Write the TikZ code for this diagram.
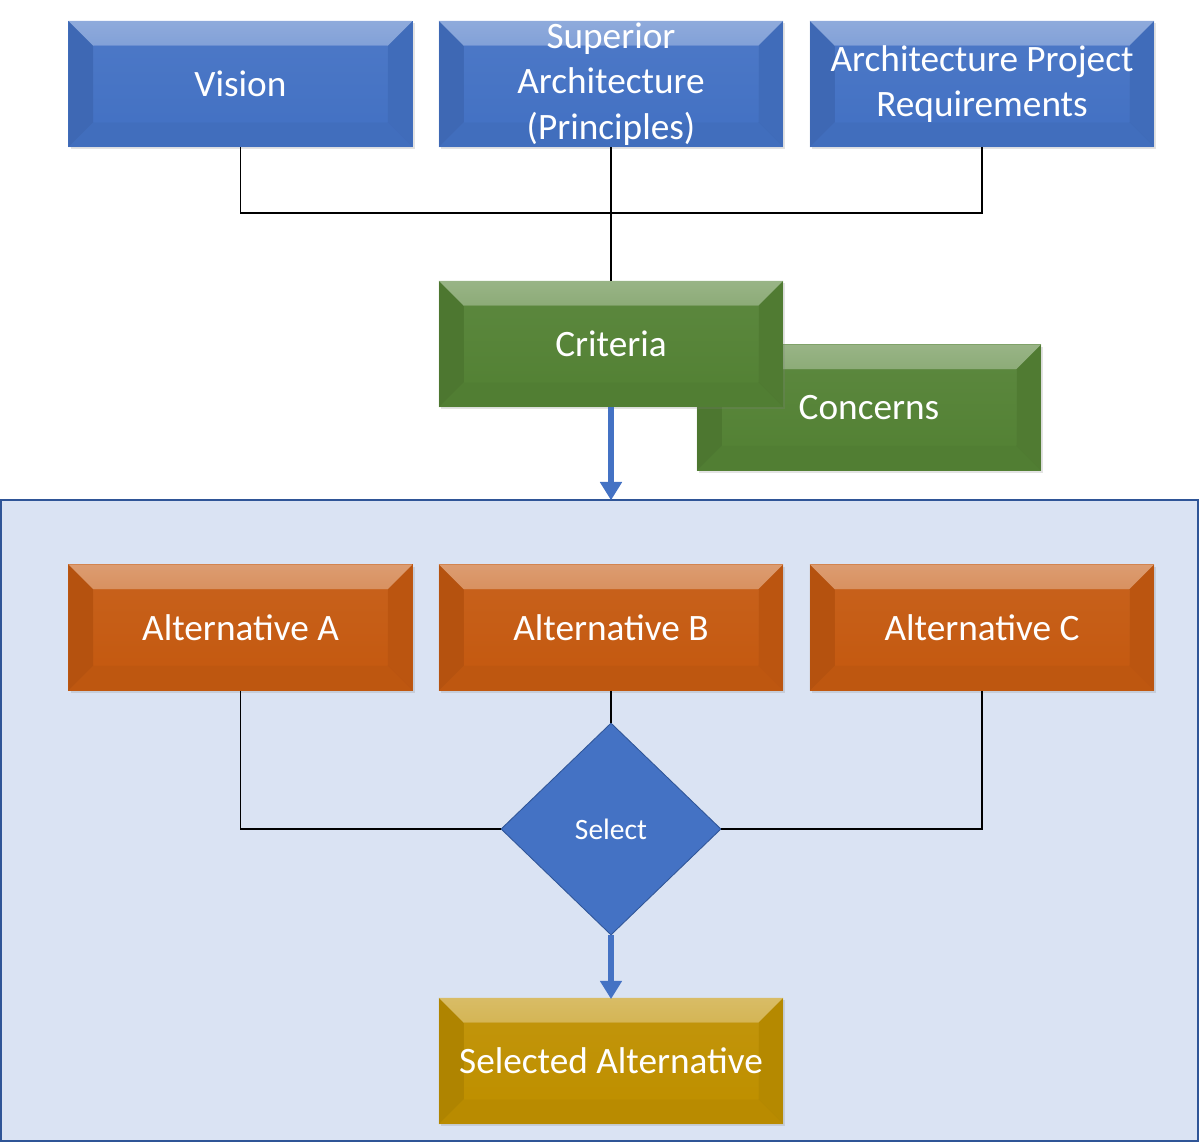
\documentclass[tikz,border=0pt]{standalone}
\usepackage{fontspec}
\setmainfont{Carlito}
\usetikzlibrary{shapes.geometric,arrows.meta,shadows}
\definecolor{cblue}{HTML}{4472C4}
\definecolor{cgreen}{HTML}{548235}
\definecolor{corange}{HTML}{C55A11}
\definecolor{cgold}{HTML}{BF9000}
\definecolor{cpanel}{HTML}{DAE3F3}
\definecolor{cborder}{HTML}{2F5597}
\tikzset{
  bevelbox/.style={
    rectangle, minimum width=8.6cm, minimum height=3.15cm, inner sep=0pt,
    fill=#1, text=white, align=center,
    font=\fontsize{26.5}{32.3}\selectfont,
    drop shadow={opacity=0.22, shadow xshift=1.5pt, shadow yshift=-1.5pt},
    path picture={
      \shade[top color=#1!60!white, bottom color=#1!95!white]
        (path picture bounding box.north west) -- (path picture bounding box.north east)
        -- ([shift={(-0.62cm,-0.62cm)}]path picture bounding box.north east)
        -- ([shift={(0.62cm,-0.62cm)}]path picture bounding box.north west) -- cycle;
      \fill[#1!80!black, opacity=0.4]
        (path picture bounding box.north west) -- ([shift={(0.62cm,-0.62cm)}]path picture bounding box.north west)
        -- ([shift={(0.62cm,0.62cm)}]path picture bounding box.south west)
        -- (path picture bounding box.south west) -- cycle;
      \fill[#1!88!black, opacity=0.4]
        (path picture bounding box.north east) -- ([shift={(-0.62cm,-0.62cm)}]path picture bounding box.north east)
        -- ([shift={(-0.62cm,0.62cm)}]path picture bounding box.south east)
        -- (path picture bounding box.south east) -- cycle;
      \fill[#1!92!black, opacity=0.4]
        (path picture bounding box.south west) -- ([shift={(0.62cm,0.62cm)}]path picture bounding box.south west)
        -- ([shift={(-0.62cm,0.62cm)}]path picture bounding box.south east)
        -- (path picture bounding box.south east) -- cycle;
      \shade[top color=#1!92!white, bottom color=#1, opacity=0.5]
        ([shift={(0.62cm,-0.62cm)}]path picture bounding box.north west)
        rectangle ([shift={(-0.62cm,0.62cm)}]path picture bounding box.south east);
    }
  },
  link/.style={draw=black, line width=1.2pt},
  bluearrow/.style={draw=cblue, line width=4pt, -{Triangle[width=15pt,length=13pt]}, shorten >=-1pt},
}
\begin{document}
\begin{tikzpicture}[x=0.025cm, y=-0.025cm]
\useasboundingbox (0,0) rectangle (1200,1143);
% panel
\node[draw=cborder, line width=1.5pt, fill=cpanel, minimum width=29.925cm, minimum height=16.025cm, inner sep=0pt] (cont) at (599.5,820.5) {};
% top row
\node[bevelbox=cblue] (vision) at (240.5,84) {Vision};
\node[bevelbox=cblue] (sup) at (611,84) {\raisebox{-4pt}{\parbox{8cm}{\centering Superior\\Architecture\\(Principles)}}};
\node[bevelbox=cblue] (req) at (982,84) {Architecture Project\\Requirements};
\coordinate (j) at (611,213);
\draw[link] (vision.south) |- (j) -| (req.south);
% concerns / criteria
\node[bevelbox=cgreen] (conc) at (869,407.5) {Concerns};
\draw[link] (sup.south) -- (j);
\node[bevelbox=cgreen] (crit) at (611,344) {Criteria};
\draw[link] (j) -- (crit.north);
\draw[bluearrow] (crit.south) -- (crit.south |- cont.north);
% alternatives
\node[bevelbox=corange] (altA) at (240.5,627.5) {Alternative A};
\node[bevelbox=corange] (altB) at (611,627.5) {Alternative B};
\node[bevelbox=corange] (altC) at (982,627.5) {Alternative C};
\node[diamond, fill=cblue, draw=cborder, line width=0.6pt, minimum width=5.5cm, minimum height=5.3cm, inner sep=0pt, text=white, font=\fontsize{21}{25}\selectfont] (dia) at (611,829) {Select};
\draw[link] (altA.south) |- (dia.west);
\draw[link] (altC.south) |- (dia.east);
\draw[link] (altB.south) -- (dia.north);
\node[bevelbox=cgold] (sel) at (611,1061) {Selected Alternative};
\draw[bluearrow] (dia.south) -- (sel.north);
\end{tikzpicture}
\end{document}
